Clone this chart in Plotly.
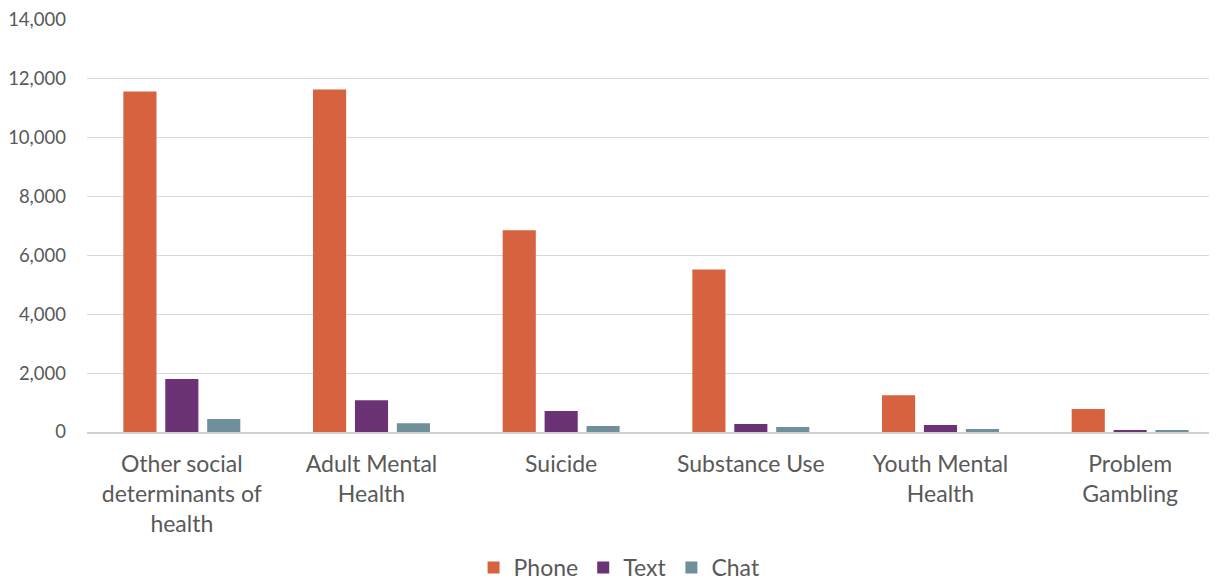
import plotly.graph_objects as go

categories = ["Other social<br>determinants of<br>health", "Adult Mental<br>Health", "Suicide",
              "Substance Use", "Youth Mental<br>Health", "Problem<br>Gambling"]
phone = [11560, 11630, 6850, 5520, 1250, 780]
text = [1800, 1080, 710, 270, 240, 40]
chat = [440, 300, 200, 170, 100, 50]
y_ticks = [0, 2000, 4000, 6000, 8000, 10000, 12000, 14000]

colors = {"Phone": "#D6623F", "Text": "#6B3276", "Chat": "#6F8F9A"}

fig = go.Figure()
for name, vals in [("Phone", phone), ("Text", text), ("Chat", chat)]:
    fig.add_trace(go.Bar(x=categories, y=vals, name=name, marker_color=colors[name],
                         marker_line_width=0))

fig.update_layout(
    width=1217, height=580,
    margin=dict(l=79, r=0, t=11, b=156, autoexpand=False),
    paper_bgcolor="white", plot_bgcolor="white",
    font=dict(family="Lato, sans-serif", color="#595959", size=20),
    barmode="group", bargap=0.337, bargroupgap=0.21,
    legend=dict(orientation="h", x=0.468, xanchor="center", y=-0.38, yanchor="bottom",
                font=dict(size=23), itemwidth=30, traceorder="normal"),
    showlegend=True,
)
fig.update_yaxes(range=[0, 14020], tickvals=y_ticks, tickformat=",", showgrid=True,
                 gridcolor="#D9D9D9", gridwidth=1, zeroline=False, showline=False,
                 automargin=False, ticklabeloverflow="allow",
                 tickfont=dict(size=18.5, color="#595959"), ticklabelstandoff=20)
fig.update_xaxes(showline=True, linecolor="#D0D0D0", linewidth=1.5, automargin=False,
                 tickfont=dict(size=23, color="#595959"), ticklabelstandoff=11)

fig.write_html("out.html")
